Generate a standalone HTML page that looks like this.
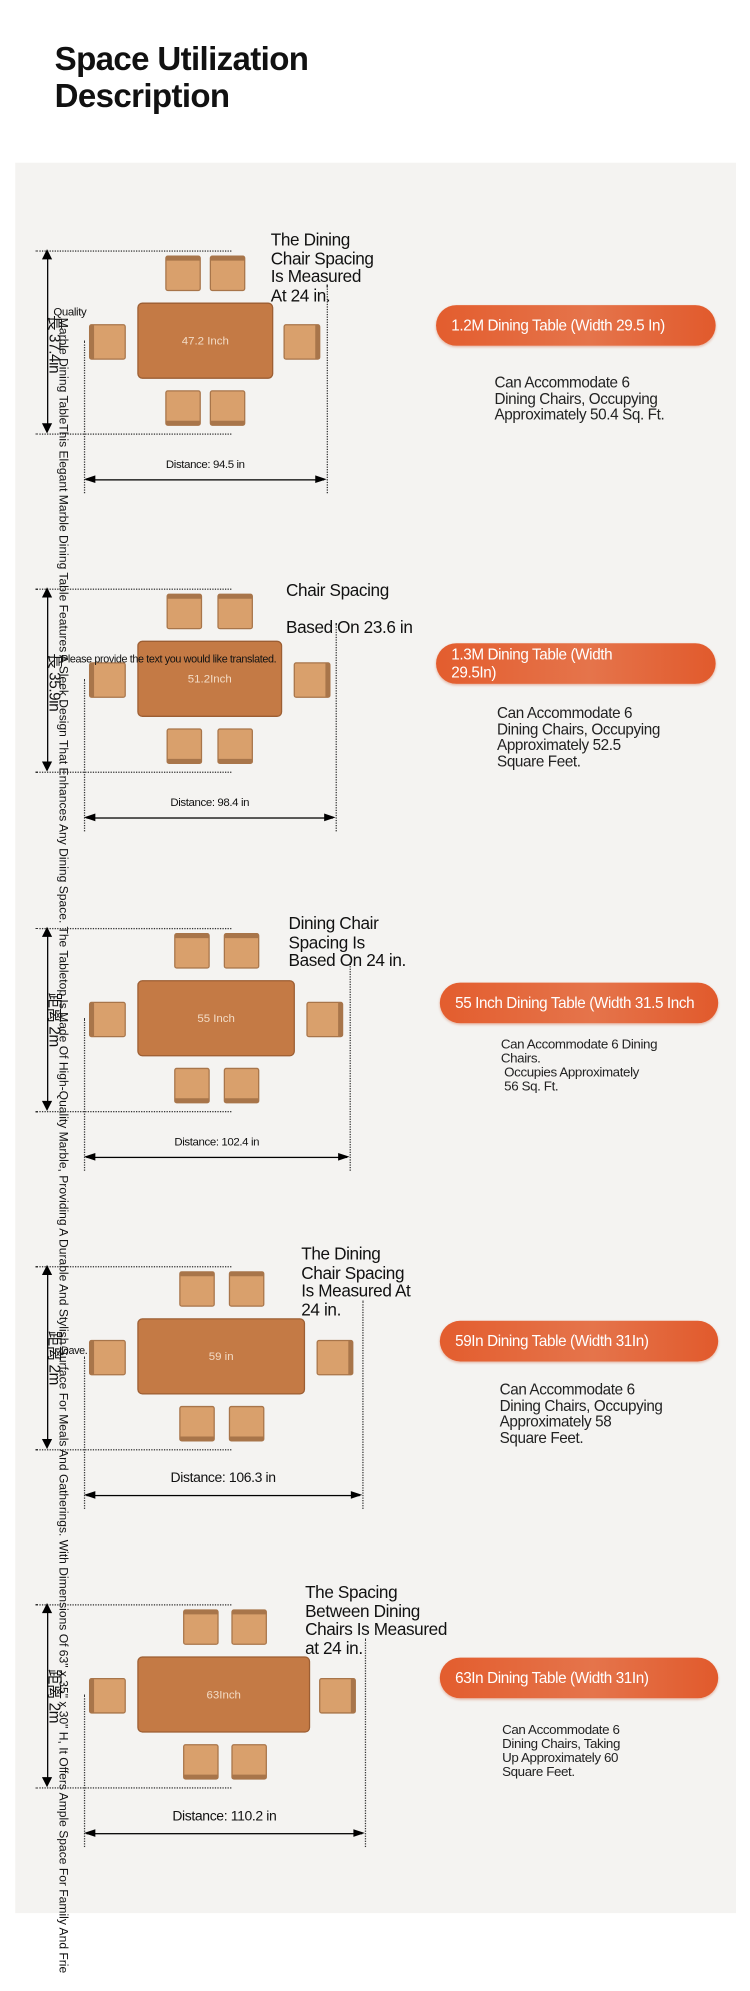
<!DOCTYPE html>
<html><head><meta charset="utf-8"><style>
html,body{margin:0;padding:0;background:#fff;width:750px;height:1990px;overflow:hidden}
#w{position:absolute;left:0;top:0;width:590px;height:1566px;transform:scale(1.27119);transform-origin:0 0;font-family:"Liberation Sans","Noto Sans CJK SC",sans-serif}
.a{position:absolute}
.panel{left:12px;top:128px;width:567px;height:1377px;background:#f4f3f1}
.chair{position:absolute;background:#d9a06c;border:1px solid #a8754a;border-radius:2px;box-sizing:border-box}
.tbl{position:absolute;background:#c47a45;border:1px solid #9c5e33;border-radius:4px;box-sizing:border-box;color:#f3dcc6;font-size:9px;display:flex;align-items:center;justify-content:center}
.dh{position:absolute;border-top:1px dotted #333;height:0}
.dv{position:absolute;border-left:1px dotted #333;width:0}
.line{position:absolute;background:#000}
.t{position:absolute;color:#111;letter-spacing:-0.3px;white-space:nowrap}
.pill{position:absolute;border-radius:17px;background:linear-gradient(90deg,#e35d2e,#e5744b 55%,#e15a2c);color:#fff;font-size:12px;letter-spacing:-0.3px;box-shadow:0 1px 2px rgba(200,80,40,.4);box-sizing:border-box;padding-left:12px;display:flex;align-items:center;line-height:14px}
</style></head><body><div id="w">
<div class="a panel"></div>
<div class="t" style="left:43px;top:32px;font-size:26px;font-weight:bold;line-height:29px;letter-spacing:-0.5px">Space Utilization<br>Description</div>
<div class="t" style="left:44px;top:250px;font-size:9.5px;transform-origin:0 0;transform:translate(11px,0) rotate(90deg);letter-spacing:0">Marble Dining TableThis Elegant Marble Dining Table Features A Sleek Design That Enhances Any Dining Space. The Tabletop Is Made Of High-Quality Marble, Providing A Durable And Stylish Surface For Meals And Gatherings. With Dimensions Of 63" x 35" x 30" H, It Offers Ample Space For Family And Frie</div>
<div id="s"></div>
<div class="t" style="left:42px;top:240px;font-size:9px">Quality</div>
<div class="t" style="left:48px;top:513px;font-size:8.5px">Please provide the text you would like translated.</div>
<div class="t" style="left:48px;top:1057px;font-size:8.5px">Dave.</div>
</div>
<script>
var S=[
{T:238,tr:215,rc:223,c1:130,c2:165,dr:257,lab:"47.2 Inch",dist:"Distance: 94.5 in",df:9,
 txt:["The Dining","Chair Spacing","Is Measured","At 24 in."],tx:213,ty:182,tf:13.5,
 pill:"1.2M Dining Table (Width 29.5 In)",px:343,pw:220,pt:240,
 desc:["Can Accommodate 6","Dining Chairs, Occupying","Approximately 50.4 Sq. Ft."],dx:389,dy:295,df2:12,vl:"長 37.4in"},
{T:504,tr:222,rc:231,c1:131,c2:171,dr:264,lab:"51.2Inch",dist:"Distance: 98.4 in",df:9,
 txt:["Chair Spacing","","Based On 23.6 in"],tx:225,ty:458,tf:13.5,
 pill:"1.3M Dining Table (Width<br>29.5In)",px:343,pw:220,pt:506,
 desc:["Can Accommodate 6","Dining Chairs, Occupying","Approximately 52.5","Square Feet."],dx:391,dy:555,df2:12,vl:"長 35.9in"},
{T:771,tr:232,rc:241,c1:137,c2:176,dr:275,lab:"55 Inch",dist:"Distance: 102.4 in",df:9,
 txt:["Dining Chair","Spacing Is","Based On 24 in."],tx:227,ty:720,tf:13.5,
 pill:"55 Inch Dining Table (Width 31.5 Inch",px:346,pw:219,pt:773,
 desc:["Can Accommodate 6 Dining","Chairs.","&nbsp;Occupies Approximately","&nbsp;56 Sq. Ft."],dx:394,dy:817,df2:10.5,vl:"距离 2m"},
{T:1037,tr:240,rc:249,c1:141,c2:180,dr:285,lab:"59 in",dist:"Distance: 106.3 in",df:11,
 txt:["The Dining","Chair Spacing","Is Measured At","24 in."],tx:237,ty:980,tf:13.5,
 pill:"59In Dining Table (Width 31In)",px:346,pw:219,pt:1039,
 desc:["Can Accommodate 6","Dining Chairs, Occupying","Approximately 58","Square Feet."],dx:393,dy:1087,df2:12,vl:"距离 2m"},
{T:1303,tr:244,rc:251,c1:144,c2:182,dr:287,lab:"63Inch",dist:"Distance: 110.2 in",df:11,
 txt:["The Spacing","Between Dining","Chairs Is Measured","at 24 in."],tx:240,ty:1246,tf:13.5,
 pill:"63In Dining Table (Width 31In)",px:346,pw:219,pt:1304,
 desc:["Can Accommodate 6","Dining Chairs, Taking","Up Approximately 60","Square Feet."],dx:395,dy:1356,df2:10.5,vl:"距离 2m"}];
var h="";
function ch(x,y,w,hh,side){var s='<div class="chair" style="left:'+x+'px;top:'+y+'px;width:'+w+'px;height:'+hh+'px;';
 if(side=="t")s+='border-top:4px solid #a8754a';if(side=="b")s+='border-bottom:4px solid #a8754a';
 if(side=="l")s+='border-left:4px solid #a8754a';if(side=="r")s+='border-right:4px solid #a8754a';return s+'"></div>';}
S.forEach(function(s){var T=s.T;
 h+='<div class="dh" style="left:28px;top:'+(T-41)+'px;width:154px"></div>';
 h+='<div class="dh" style="left:28px;top:'+(T+103)+'px;width:154px"></div>';
 h+='<div class="line" style="left:36.5px;top:'+(T-36)+'px;width:1.2px;height:134px"></div>';
 h+='<div class="a" style="left:33px;top:'+(T-42)+'px;width:0;height:0;border-left:4px solid transparent;border-right:4px solid transparent;border-bottom:8px solid #000"></div>';
 h+='<div class="a" style="left:33px;top:'+(T+95)+'px;width:0;height:0;border-left:4px solid transparent;border-right:4px solid transparent;border-top:8px solid #000"></div>';
 h+='<div class="t" style="left:40px;top:'+(T+10)+'px;font-size:12px;transform-origin:0 0;transform:translate(12px,0) rotate(90deg)">'+s.vl+'</div>';
 h+=ch(s.c1,T-37,28,28,"t")+ch(s.c2,T-37,28,28,"t")+ch(s.c1,T+69,28,28,"b")+ch(s.c2,T+69,28,28,"b");
 h+=ch(70,T+17,29,28,"l")+ch(s.rc,T+17,29,28,"r");
 h+='<div class="tbl" style="left:108px;top:'+T+'px;width:'+(s.tr-108)+'px;height:60px">'+s.lab+'</div>';
 h+='<div class="dv" style="left:66px;top:'+(T+30)+'px;height:120px"></div>';
 h+='<div class="dv" style="left:'+s.dr+'px;top:'+(T-14)+'px;height:164px"></div>';
 h+='<div class="line" style="left:68px;top:'+(T+139)+'px;width:'+(s.dr-70)+'px;height:1.3px"></div>';
 h+='<div class="a" style="left:66px;top:'+(T+136)+'px;border-top:3.5px solid transparent;border-bottom:3.5px solid transparent;border-right:9px solid #000"></div>';
 h+='<div class="a" style="left:'+(s.dr-9)+'px;top:'+(T+136)+'px;border-top:3.5px solid transparent;border-bottom:3.5px solid transparent;border-left:9px solid #000"></div>';
 h+='<div class="t" style="left:66px;width:'+(s.dr-66)+'px;text-align:center;top:'+(T+139-s.df-8)+'px;font-size:'+s.df+'px">'+s.dist+'</div>';
 h+='<div class="t" style="left:'+s.tx+'px;top:'+s.ty+'px;font-size:'+s.tf+'px;line-height:14.5px">'+s.txt.join("<br>")+'</div>';
 h+='<div class="pill" style="left:'+s.px+'px;top:'+s.pt+'px;width:'+s.pw+'px;height:32px">'+s.pill+'</div>';
 h+='<div class="t" style="left:'+s.dx+'px;top:'+s.dy+'px;font-size:'+s.df2+'px;line-height:'+(s.df2+0.5)+'px;color:#222">'+s.desc.join("<br>")+'</div>';
});
document.getElementById("s").innerHTML=h;
</script>
</body></html>
